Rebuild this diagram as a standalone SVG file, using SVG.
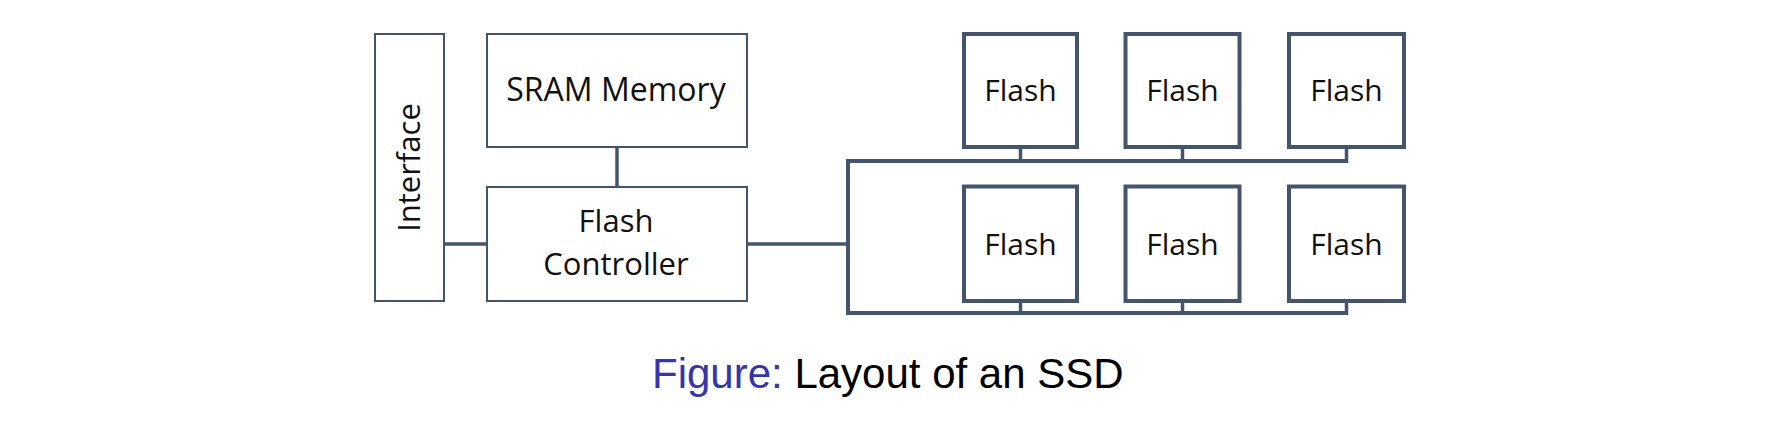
<svg xmlns="http://www.w3.org/2000/svg" width="1780" height="426" viewBox="0 0 1780 426">
<style>
.thin{fill:#fff;stroke:#44546A;stroke-width:2}
.thick{fill:#fff;stroke:#44546A;stroke-width:4}
.lbl{font-family:"Open Sans","Noto Sans",sans-serif;fill:#111;text-anchor:middle}
.conn{stroke:#44546A;stroke-width:3.5;fill:none;stroke-linecap:butt;stroke-linejoin:miter}
.bus{stroke:#44546A;stroke-width:4;fill:none;stroke-linejoin:miter}
.cap{font-family:"Liberation Sans",Arial,sans-serif;font-size:42px}
</style>
<rect width="1780" height="426" fill="#fff"/>
<g id="connectors">
<line class="conn" x1="617" y1="147" x2="617" y2="187"/>
<line class="conn" x1="444" y1="244" x2="487" y2="244"/>
<line class="conn" x1="747" y1="244" x2="848" y2="244"/>
<polyline class="bus" points="1346.5,161 848,161 848,313 1346.5,313"/>
<line class="conn" x1="1020.5" y1="147" x2="1020.5" y2="161"/>
<line class="conn" x1="1182.5" y1="147" x2="1182.5" y2="161"/>
<line class="conn" x1="1346.5" y1="147" x2="1346.5" y2="163"/>
<line class="conn" x1="1020.5" y1="301" x2="1020.5" y2="313"/>
<line class="conn" x1="1182.5" y1="301" x2="1182.5" y2="313"/>
<line class="conn" x1="1346.5" y1="301" x2="1346.5" y2="315"/>
</g>
<g id="interface">
<rect class="thin" x="375" y="34" width="69" height="267"/>
<text class="lbl" font-size="31" transform="translate(419.5,167.5) rotate(-90)">Interface</text>
</g>
<g id="sram">
<rect class="thin" x="487" y="34" width="260" height="113"/>
<text class="lbl" font-size="32" x="616" y="101">SRAM Memory</text>
</g>
<g id="controller">
<rect class="thin" x="487" y="187" width="260" height="114"/>
<text class="lbl" font-size="31" x="616" y="232">Flash</text>
<text class="lbl" font-size="31" x="616" y="275">Controller</text>
</g>
<g id="flash1">
<rect class="thick" x="964" y="34" width="113" height="113"/>
<text class="lbl" font-size="30" x="1020.5" y="101">Flash</text>
</g>
<g id="flash2">
<rect class="thick" x="1125.5" y="34" width="114" height="113"/>
<text class="lbl" font-size="30" x="1182.5" y="101">Flash</text>
</g>
<g id="flash3">
<rect class="thick" x="1289" y="34" width="115" height="113"/>
<text class="lbl" font-size="30" x="1346.5" y="101">Flash</text>
</g>
<g id="flash4">
<rect class="thick" x="964" y="186.5" width="113" height="114.5"/>
<text class="lbl" font-size="30" x="1020.5" y="255">Flash</text>
</g>
<g id="flash5">
<rect class="thick" x="1125.5" y="186.5" width="114" height="114.5"/>
<text class="lbl" font-size="30" x="1182.5" y="255">Flash</text>
</g>
<g id="flash6">
<rect class="thick" x="1289" y="186.5" width="115" height="114.5"/>
<text class="lbl" font-size="30" x="1346.5" y="255">Flash</text>
</g>
<g id="caption">
<text class="cap" x="652" y="388"><tspan fill="#3535AD">Figure:</tspan><tspan fill="#000"> Layout of an SSD</tspan></text>
</g>
</svg>
